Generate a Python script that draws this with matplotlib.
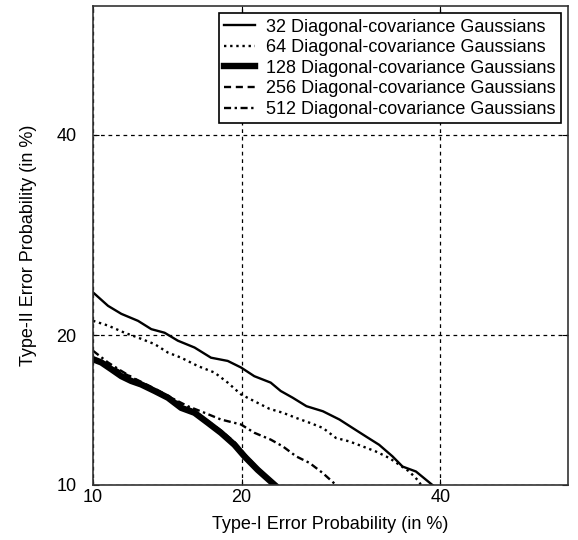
import numpy as np
import matplotlib
matplotlib.use("Agg")
import matplotlib.pyplot as plt
from statistics import NormalDist

plt.rcParams['font.family'] = ['Liberation Sans', 'DejaVu Sans']

_nd = NormalDist()
_ppf = np.vectorize(lambda p: _nd.inv_cdf(min(max(p / 100.0, 1e-9), 1 - 1e-9)), otypes=[float])
_cdf = np.vectorize(lambda z: _nd.cdf(z) * 100.0, otypes=[float])

def fwd(p):
    return _ppf(np.asarray(p, dtype=float))

def inv(z):
    return _cdf(np.asarray(z, dtype=float))

# ---- data (percent) ----
x32 = [10.0, 10.8, 11.55, 12.54, 13.37, 14.24, 15.14, 16.33, 17.56, 18.87, 19.95, 21.07, 22.5,
       23.4, 24.5, 25.8, 27.4, 29.05, 30.4, 31.8, 33.2, 34.66, 35.76, 37.25, 39.1]
y32 = [23.7, 22.5, 21.8, 21.2, 20.5, 20.2, 19.55, 19.0, 18.2, 17.95, 17.45, 16.8, 16.33,
       15.73, 15.26, 14.68, 14.34, 13.8, 13.26, 12.73, 12.23, 11.55, 10.98, 10.71, 10.0]

x64 = [10.0, 10.8, 11.74, 12.54, 13.59, 14.46, 15.37, 16.57, 17.83, 18.87, 19.95, 21.07, 22.4,
       23.6, 24.83, 26.1, 27.4, 28.7, 30.07, 31.46, 32.87, 34.3, 35.4, 36.5, 37.6, 37.8]
y64 = [21.2, 20.8, 20.2, 19.8, 19.27, 18.6, 18.2, 17.56, 17.07, 16.33, 15.49, 15.02, 14.5,
       14.24, 13.9, 13.59, 13.26, 12.64, 12.43, 12.13, 11.83, 11.46, 11.08, 10.71, 10.18, 10.0]

x128 = [10.0, 10.44, 10.98, 11.55, 12.13, 12.73, 13.59, 14.46, 15.37, 16.33, 17.32, 18.33,
        19.41, 20.24, 21.36, 22.5, 22.85]
y128 = [18.08, 17.83, 17.32, 16.8, 16.45, 16.2, 15.73, 15.26, 14.57, 14.24, 13.59, 12.96,
        12.23, 11.55, 10.8, 10.18, 10.0]

x256 = [10.0, 10.8, 11.55, 12.54, 13.59, 14.46, 15.37, 16.33, 17.32, 18.33, 19.41, 20.24,
        21.36, 22.5, 23.0]
y256 = [18.2, 17.7, 17.1, 16.5, 15.9, 15.4, 14.8, 14.35, 13.7, 13.1, 12.4, 11.7, 10.9, 10.25, 10.0]

x512 = [10.0, 10.8, 11.55, 12.54, 13.59, 14.68, 15.84, 17.07, 18.33, 19.95, 21.07, 22.5,
        23.6, 24.83, 26.1, 27.4, 28.7]
y512 = [18.74, 17.83, 17.19, 16.45, 15.84, 15.26, 14.68, 14.24, 13.8, 13.48, 12.96, 12.54,
        12.13, 11.55, 11.18, 10.62, 10.0]

ticks = [10, 20, 40]
tick_labels = ["10", "20", "40"]
labels = ["32 Diagonal-covariance Gaussians", "64 Diagonal-covariance Gaussians",
          "128 Diagonal-covariance Gaussians", "256 Diagonal-covariance Gaussians",
          "512 Diagonal-covariance Gaussians"]

FS = 13

fig = plt.figure(figsize=(5.78, 5.40), dpi=100)
ax = fig.add_axes([0.161, 0.102, 0.822, 0.887])
ax.set_xscale('function', functions=(fwd, inv))
ax.set_yscale('function', functions=(fwd, inv))

ax.plot(x32, y32, color='black', lw=1.7, ls='-', label=labels[0])
ax.plot(x64, y64, color='black', lw=1.7, ls=(0, (1, 1.6)), label=labels[1])
ax.plot(x128, y128, color='black', lw=4.6, ls='-', label=labels[2])
ax.plot(x256, y256, color='black', lw=1.7, ls=(0, (3, 2)), label=labels[3])
ax.plot(x512, y512, color='black', lw=1.7, ls=(0, (3, 1.5, 1, 1.5)), label=labels[4])

ax.set_xlim(10, 55)
ax.set_ylim(10, 55)
ax.set_xticks(ticks)
ax.set_xticklabels(tick_labels)
ax.set_yticks(ticks)
ax.set_yticklabels(tick_labels)
ax.minorticks_off()
ax.grid(True, color='black', ls=(0, (3, 3)), lw=0.9)
ax.tick_params(direction='in', length=4, top=True, right=True, labelsize=FS)
ax.tick_params(axis='x', pad=3)
ax.tick_params(axis='y', pad=12)
for s in ax.spines.values():
    s.set_linewidth(1.2)
    s.set_color('#333333')

ax.set_xlabel("Type-I Error Probability (in %)", fontsize=FS, labelpad=7)
ax.set_ylabel("Type-II Error Probability (in %)", fontsize=FS, labelpad=14)

leg = ax.legend(loc='upper right', fontsize=FS, frameon=True, fancybox=False,
                edgecolor='black', framealpha=1, handlelength=1.7, labelspacing=0.2,
                borderaxespad=0.4, handletextpad=0.6, borderpad=0.3)
leg.get_frame().set_linewidth(1.2)

fig.savefig("out.png", dpi=100)
